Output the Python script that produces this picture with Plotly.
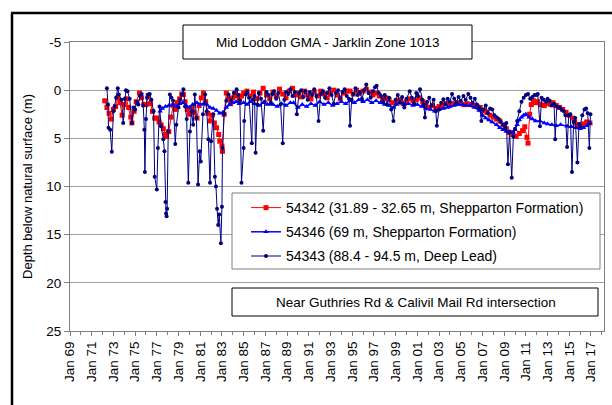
import plotly.graph_objects as go

# ---------------- data ----------------
tick_years = list(range(1969, 2018, 2))
tick_labels = ["Jan %02d" % (y % 100) for y in tick_years]
y_ticks = [-5, 0, 5, 10, 15, 20, 25]
y_tick_labels = ["-5", "0", "5", "10", "15", "20", "25"]

red_t = [1972.20, 1972.40, 1972.60, 1972.80, 1973.00, 1973.20, 1973.40, 1973.60, 1973.80, 1974.00,
         1974.20, 1974.40, 1974.60, 1974.70, 1974.90, 1975.10, 1975.40, 1975.60, 1975.80, 1976.00,
         1976.20, 1976.40, 1976.60, 1976.80, 1977.00, 1977.20, 1977.40, 1977.60, 1977.80, 1977.90,
         1978.10, 1978.30, 1978.50, 1978.70, 1978.90, 1979.10, 1979.30, 1979.45, 1979.60, 1979.80,
         1980.00, 1980.20, 1980.40, 1980.70, 1980.90, 1981.10, 1981.30, 1981.50, 1981.70, 1981.90,
         1982.10, 1982.30, 1982.50, 1982.70, 1982.80, 1983.00, 1983.05, 1983.20, 1983.40, 1983.60,
         1983.80, 1984.00, 1984.20, 1984.40, 1984.60, 1984.80, 1985.00, 1985.30, 1985.60, 1985.90,
         1986.20, 1986.50, 1986.80, 1987.10, 1987.40, 1987.70, 1988.00, 1988.30, 1988.60, 1988.90,
         1989.20, 1989.50, 1989.80, 1990.00, 1990.30, 1990.60, 1990.90, 1991.20, 1991.50, 1991.80,
         1992.10, 1992.40, 1992.70, 1993.00, 1993.30, 1993.60, 1993.90, 1994.20, 1994.50, 1994.80,
         1995.10, 1995.40, 1995.70, 1996.00, 1996.30, 1996.60, 1996.90, 1997.20, 1997.50, 1997.80,
         1998.10, 1998.40, 1998.80, 1999.10, 1999.40, 1999.70, 2000.00, 2000.30, 2000.60, 2000.90,
         2001.20, 2001.50, 2001.80, 2002.10, 2002.40, 2002.70, 2003.00, 2003.30, 2003.60, 2004.00,
         2004.30, 2004.60, 2005.00, 2005.30, 2005.60, 2005.90, 2006.20, 2006.50, 2006.80, 2007.10,
         2007.40, 2007.70, 2008.00, 2008.30, 2008.60, 2008.90, 2009.20, 2009.50, 2009.80, 2010.10,
         2010.40, 2010.70, 2010.90, 2011.10, 2011.20, 2011.35, 2011.50, 2011.70, 2011.90, 2012.10,
         2012.40, 2012.70, 2013.00, 2013.30, 2013.50, 2013.80, 2014.10, 2014.40, 2014.70, 2015.00,
         2015.30, 2015.50, 2015.70, 2016.00, 2016.30, 2016.60, 2016.90]
red_d = [1.1, 1.8, 2.4, 3.0, 2.0, 1.7, 0.8, 1.3, 2.6, 1.5,
         0.9, 1.8, 2.8, 3.4, 2.2, 1.2, 0.3, 0.8, 1.5, 1.5,
         0.6, 1.4, 2.2, 2.9, 2.9, 3.3, 3.6, 4.0, 4.6, 4.8,
         4.3, 2.8, 1.6, 2.0, 1.3, 0.9, 0.4, 0.45, 1.2, 2.0,
         2.5, 1.8, 2.3, 2.9, 1.6, 0.8, 0.3, 1.2, 2.4, 3.2,
         2.6, 3.4, 3.9, 4.6, 5.3, 5.8, 6.35, 2.5, 0.3, 0.9,
         1.4, 0.8, 0.3, 0.6, 1.0, 0.6, 0.3, 0.1, 0.6, 0.2,
         0.9, 0.3, -0.2, 0.5, 0.9, 0.2, 0.6, -0.1, 0.4, 0.8,
         0.1, -0.2, 0.5, 0.3, 0.7, 0.1, 0.5, 0.9, 0.2, 0.6,
         0.1, 0.4, 0.8, 0.3, 0.0, 0.5, 0.9, 0.3, 0.1, 0.1,
         0.4, 0.0, 0.3, 0.1, -0.1, 0.2, 0.5, 0.3, 0.6, 0.9,
         0.8, 1.0, 1.3, 1.1, 1.0, 1.4, 1.2, 0.9, 1.1, 1.0,
         0.8, 1.2, 1.5, 1.8, 1.6, 1.9, 1.7, 1.6, 1.4, 1.5,
         1.4, 1.3, 1.4, 1.5, 1.4, 1.5, 1.6, 1.7, 1.8, 2.1,
         2.3, 2.6, 2.8, 3.0, 3.2, 3.6, 4.0, 4.4, 4.6, 4.8,
         4.5, 4.2, 3.8, 4.9, 5.5, 2.5, 1.5, 1.1, 1.3, 1.2,
         1.5, 1.6, 1.4, 1.5, 1.3, 1.6, 1.8, 2.0, 2.3, 2.6,
         2.9, 3.3, 3.6, 3.8, 3.5, 3.3, 3.4]

blue_t = [1977.30, 1977.50, 1977.80, 1978.10, 1978.50, 1978.80, 1979.10, 1979.40, 1979.70, 1980.00,
          1980.30, 1980.70, 1981.00, 1981.30, 1981.60, 1981.90, 1982.20, 1982.50, 1982.80, 1983.10,
          1983.40, 1983.70, 1984.00, 1984.30, 1984.60, 1985.00, 1985.30, 1985.60, 1986.00, 1986.40,
          1986.80, 1987.20, 1987.70, 1988.10, 1988.50, 1988.90, 1989.30, 1989.60, 1990.00, 1990.40,
          1990.80, 1991.20, 1991.60, 1992.00, 1992.40, 1992.80, 1993.20, 1993.60, 1994.00, 1994.40,
          1994.80, 1995.20, 1995.60, 1996.00, 1996.40, 1996.80, 1997.20, 1997.60, 1998.00, 1998.40,
          1998.80, 1999.10, 1999.40, 1999.80, 2000.20, 2000.60, 2001.00, 2001.40, 2001.80, 2002.20,
          2002.60, 2003.00, 2003.40, 2003.80, 2004.00, 2004.40, 2004.80, 2005.20, 2005.50, 2005.90,
          2006.30, 2006.70, 2007.00, 2007.30, 2007.60, 2007.90, 2008.30, 2008.60, 2008.90, 2009.20,
          2009.50, 2009.80, 2010.00, 2010.20, 2010.40, 2010.60, 2010.80, 2011.00, 2011.30, 2011.60,
          2011.90, 2012.30, 2012.70, 2013.00, 2013.40, 2013.80, 2014.20, 2014.80, 2015.20, 2015.60,
          2016.00, 2016.30, 2016.60, 2016.90]
blue_d = [2.2, 1.9, 1.7, 1.6, 1.5, 1.7, 1.4, 1.3, 1.6, 1.8,
          1.5, 1.3, 1.5, 1.4, 1.5, 1.8, 1.9, 2.1, 2.4, 2.3,
          1.8, 1.5, 1.3, 1.2, 1.4, 1.3, 1.5, 1.2, 1.4, 1.6,
          1.3, 1.5, 1.5, 1.7, 1.4, 1.6, 1.3, 1.3, 1.8, 1.5,
          1.7, 1.4, 1.6, 1.2, 1.5, 1.3, 1.6, 1.4, 1.2, 1.4,
          1.1, 1.3, 1.0, 1.2, 1.0, 1.3, 1.1, 1.3, 1.5, 1.6,
          1.8, 1.5, 1.3, 1.5, 1.4, 1.6, 1.5, 1.7, 1.9, 2.0,
          2.2, 2.0, 1.9, 1.8, 1.7, 1.6, 1.5, 1.5, 1.6, 1.6,
          1.8, 2.1, 2.6, 2.9, 3.1, 3.3, 3.6, 3.9, 4.1, 4.3,
          4.4, 4.4, 4.1, 3.6, 3.1, 2.8, 2.6, 2.5, 2.8, 3.0,
          3.2, 3.2, 3.4, 3.5, 3.6, 3.7, 3.6, 3.75, 3.8, 3.9,
          4.0, 3.9, 3.7, 3.4]

navy_t = [1972.40, 1972.50, 1972.55, 1972.70, 1972.85, 1973.00, 1973.10, 1973.25, 1973.40, 1973.50,
          1973.75, 1973.90, 1974.05, 1974.15, 1974.30, 1974.50, 1974.70, 1974.85, 1975.00, 1975.15,
          1975.30, 1975.45, 1975.60, 1975.75, 1975.85, 1975.90, 1976.00, 1976.10, 1976.20, 1976.35,
          1976.50, 1976.70, 1976.80, 1977.00, 1977.10, 1977.25, 1977.40, 1977.60, 1977.70, 1977.80,
          1977.85, 1977.90, 1977.95, 1978.05, 1978.20, 1978.35, 1978.50, 1978.70, 1978.80, 1979.00,
          1979.15, 1979.30, 1979.45, 1979.60, 1979.75, 1979.90, 1980.05, 1980.20, 1980.35, 1980.50,
          1980.65, 1980.80, 1980.95, 1981.05, 1981.25, 1981.45, 1981.60, 1981.75, 1981.90, 1982.00,
          1982.20, 1982.35, 1982.45, 1982.55, 1982.65, 1982.75, 1982.90, 1983.00, 1983.05, 1983.20,
          1983.40, 1983.60, 1983.85, 1984.10, 1984.35, 1984.50, 1984.65, 1984.80, 1985.00, 1985.05,
          1985.20, 1985.35, 1985.50, 1985.75, 1985.85, 1986.00, 1986.10, 1986.25, 1986.40, 1986.60,
          1986.80, 1986.95, 1987.10, 1987.30, 1987.50, 1987.65, 1987.80, 1988.00, 1988.20, 1988.40,
          1988.60, 1988.75, 1988.90, 1989.10, 1989.30, 1989.50, 1989.70, 1989.90, 1990.10, 1990.30,
          1990.50, 1990.70, 1990.90, 1991.10, 1991.30, 1991.50, 1991.70, 1991.90, 1992.10, 1992.30,
          1992.50, 1992.70, 1992.90, 1993.10, 1993.30, 1993.50, 1993.70, 1993.90, 1994.10, 1994.30,
          1994.50, 1994.70, 1994.80, 1994.95, 1995.10, 1995.30, 1995.50, 1995.70, 1995.90, 1996.10,
          1996.30, 1996.50, 1996.70, 1996.90, 1997.10, 1997.25, 1997.45, 1997.65, 1997.85, 1998.00,
          1998.20, 1998.40, 1998.60, 1998.80, 1999.00, 1999.20, 1999.40, 1999.60, 1999.80, 2000.00,
          2000.30, 2000.50, 2000.70, 2000.90, 2001.05, 2001.25, 2001.45, 2001.60, 2001.70, 2001.90,
          2002.10, 2002.30, 2002.50, 2002.70, 2002.80, 2003.00, 2003.20, 2003.40, 2003.60, 2003.80,
          2004.00, 2004.20, 2004.40, 2004.60, 2004.80, 2005.00, 2005.25, 2005.45, 2005.70, 2005.90,
          2006.10, 2006.30, 2006.50, 2006.70, 2006.80, 2006.90, 2007.10, 2007.30, 2007.50, 2007.70,
          2007.90, 2008.10, 2008.30, 2008.50, 2008.70, 2008.90, 2009.10, 2009.20, 2009.35, 2009.50,
          2009.70, 2009.85, 2010.00, 2010.20, 2010.40, 2010.60, 2010.80, 2011.00, 2011.20, 2011.40,
          2011.60, 2011.80, 2012.00, 2012.10, 2012.30, 2012.45, 2012.65, 2012.85, 2013.00, 2013.20,
          2013.40, 2013.60, 2013.70, 2013.85, 2014.10, 2014.30, 2014.50, 2014.65, 2014.80, 2014.95,
          2015.10, 2015.25, 2015.40, 2015.55, 2015.75, 2015.90, 2016.00, 2016.20, 2016.40, 2016.55,
          2016.70, 2016.85, 2016.95]
navy_d = [-0.2, 1.5, 3.9, 4.1, 6.4, 2.2, 1.7, 0.8, -0.2, 0.45,
          1.0, 3.4, 0.9, 0.0, 0.1, 0.9, 3.4, 1.8, 2.0, 1.2,
          1.5, 0.6, 0.4, 1.6, 4.1, 8.5, 3.0, 0.8, 0.45, 0.4,
          1.0, 2.2, 9.0, 10.3, 6.0, 1.7, 3.75, 5.1, 6.35, 11.6,
          12.8, 13.1, 12.3, 4.3, 0.45, 0.8, 1.1, 5.6, 3.6, 1.8,
          1.0, 0.45, -0.1, 1.7, 3.0, 9.6, 4.3, 2.2, 3.6, 0.45,
          2.9, 9.8, 6.35, 7.4, 2.5, 0.45, 2.2, 5.1, 9.6, 5.3,
          2.5, 9.0, 10.0, 12.3, 14.0, 12.9, 15.9, 12.1, 6.0, 2.5,
          1.1, 0.45, 1.1, 0.3, -0.1, 0.5, 1.1, 9.6, 6.0, 3.2,
          0.45, 0.2, 0.8, 5.5, 1.0, 0.6, 6.5, 1.5, 0.3, 0.9,
          4.2, 1.2, 0.2, 0.5, 1.3, 0.4, 0.1, 0.9, 0.3, 1.5,
          5.5, 1.0, 0.2, 0.4, -0.1, 0.6, 0.2, 2.5, 0.3, 0.0,
          0.7, 0.1, 1.0, 0.2, 0.5, -0.1, 0.6, 3.2, 0.4, 0.1,
          0.8, 0.3, -0.2, 0.5, 1.4, 0.3, 0.0, 0.8, 0.2, -0.1,
          0.6, 0.9, 3.7, 1.0, 0.4, -0.2, 0.5, 0.2, 0.9, 0.0,
          -0.6, 0.3, 0.8, 0.1, -0.3, -0.45, 0.3, 0.6, 1.2, 0.5,
          1.5, 0.8, 2.0, 3.2, 1.0, 0.5, 1.3, 0.7, 1.8, 0.9,
          0.1, 0.8, 1.4, 0.3, 0.6, -0.1, 1.0, 1.5, 2.85, 1.2,
          0.8, 1.6, 1.0, 2.2, 3.7, 2.0, 1.3, 0.95, 1.5, 0.9,
          1.2, 0.4, 0.9, 1.3, 0.7, 1.1, 0.6, 1.0, 0.4, 0.8,
          1.3, 0.9, 1.5, 1.8, 2.0, 3.2, 2.0, 1.6, 2.4, 1.9,
          2.0, 2.6, 2.8, 3.0, 3.3, 3.6, 3.9, 3.4, 7.7, 4.3,
          9.1, 4.8, 4.0, 3.2, 2.2, 1.2, 0.8, 0.5, 0.4, 0.9,
          0.7, 0.5, 0.5, 0.4, 3.75, 0.8, 1.0, 1.2, 0.9, 1.1,
          1.6, 1.4, 5.1, 1.7, 1.8, 2.0, 2.2, 2.6, 5.9, 2.6,
          2.5, 8.5, 3.3, 2.9, 7.5, 3.5, 3.75, 2.6, 2.0, 1.9,
          2.4, 6.0, 2.5]

series_names = ["54342 (31.89 - 32.65 m, Shepparton Formation)",
                "54346 (69 m, Shepparton Formation)",
                "54343 (88.4 - 94.5 m, Deep Lead)"]

# ---------------- figure ----------------
FONT = "Liberation Sans, Arial, sans-serif"
L, R, T, B, W, H = 70, 8, 42, 74, 612, 405
PW, PH = W - L - R, H - T - B


def px(x):
    return (x - L) / PW


def py(y):
    return (H - B - y) / PH


fig = go.Figure()
fig.add_trace(go.Scatter(x=red_t, y=red_d, mode="lines+markers", name=series_names[0],
                         legendgroup="a",
                         line=dict(color="#FF0000", width=1),
                         marker=dict(symbol="square", size=5, color="#FF0000")))
fig.add_trace(go.Scatter(x=blue_t, y=blue_d, mode="lines+markers", name=series_names[1],
                         legendgroup="b",
                         line=dict(color="#0000FF", width=1.5),
                         marker=dict(symbol="triangle-up", size=5, color="#0000FF")))
fig.add_trace(go.Scatter(x=navy_t, y=navy_d, mode="lines+markers", name=series_names[2],
                         legendgroup="c",
                         line=dict(color="#000080", width=1),
                         marker=dict(symbol="circle", size=4, color="#000080")))

shapes = [
    # outer frame (left and top)
    dict(type="line", xref="paper", yref="paper", x0=px(12), x1=px(12), y0=py(13), y1=py(410),
         line=dict(color="black", width=2.5), layer="above"),
    dict(type="line", xref="paper", yref="paper", x0=px(11), x1=px(615), y0=py(13), y1=py(13),
         line=dict(color="black", width=2.5), layer="above"),
    # title box
    dict(type="rect", xref="paper", yref="paper", x0=px(183), x1=px(472), y0=py(59), y1=py(25),
         fillcolor="white", line=dict(color="black", width=1), layer="above"),
    # legend box
    dict(type="rect", xref="paper", yref="paper", x0=px(232), x1=px(600), y0=py(269), y1=py(193),
         fillcolor="white", line=dict(color="#7f7f7f", width=1), layer="above"),
    # location box
    dict(type="rect", xref="paper", yref="paper", x0=px(232), x1=px(598), y0=py(316), y1=py(288),
         fillcolor="white", line=dict(color="black", width=1), layer="above"),
]

annotations = [
    dict(text="Mid Loddon GMA - Jarklin Zone 1013", xref="paper", yref="paper",
         x=px(328), y=py(42), xanchor="center", yanchor="middle", showarrow=False,
         font=dict(family=FONT, size=13.5, color="black")),
    dict(text="Near Guthries Rd & Calivil Mail Rd intersection", xref="paper", yref="paper",
         x=px(416), y=py(302), xanchor="center", yanchor="middle", showarrow=False,
         font=dict(family=FONT, size=13.5, color="black")),
]

fig.update_layout(
    width=W, height=H,
    margin=dict(l=L, r=R, t=T, b=B),
    paper_bgcolor="white", plot_bgcolor="white",
    font=dict(family=FONT, size=13, color="black"),
    showlegend=True,
    legend=dict(x=px(246), y=py(192), xanchor="left", yanchor="top",
                bgcolor="rgba(0,0,0,0)", borderwidth=0,
                font=dict(family=FONT, size=14, color="black"),
                tracegroupgap=3, itemwidth=30),
    shapes=shapes,
    annotations=annotations,
    xaxis=dict(range=[1969, 2018.2], tickmode="array", tickvals=tick_years, ticktext=tick_labels,
               tickangle=-90, ticks="outside", ticklen=4, tickcolor="#808080",
               minor=dict(dtick=1, tick0=1969, ticks="outside", ticklen=3, tickcolor="#808080"),
               showgrid=False, zeroline=False, showline=True, linecolor="#808080", linewidth=1,
               mirror=True, tickfont=dict(family=FONT, size=13.5, color="black")),
    yaxis=dict(range=[25, -5], tickmode="array", tickvals=y_ticks, ticktext=y_tick_labels,
               ticks="outside", ticklen=5, tickcolor="#808080",
               showgrid=True, gridcolor="#a0a0a0", gridwidth=1, zeroline=False,
               showline=True, linecolor="#808080", linewidth=1, mirror=True,
               tickfont=dict(family=FONT, size=13.5, color="black"),
               title=dict(text="Depth below natural surface (m)", standoff=10,
                          font=dict(family=FONT, size=13, color="black"))),
)

fig.write_html("out.html", config={"displayModeBar": False})

# remove the browser's default page margin so the figure sits at the window origin
with open("out.html", encoding="utf-8") as f:
    page = f.read()
page = page.replace("<body>", '<body style="margin:0;padding:0;overflow:hidden">', 1)
page = page.replace("<head>", '<head><style>html,body{margin:0;padding:0;}</style>', 1)
with open("out.html", "w", encoding="utf-8") as f:
    f.write(page)
